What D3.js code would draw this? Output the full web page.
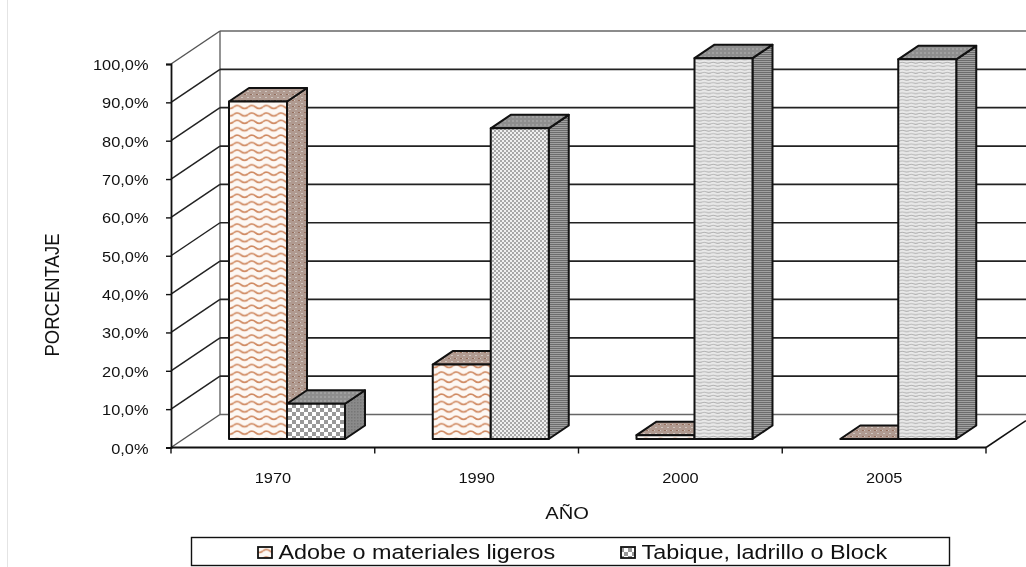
<!DOCTYPE html>
<html><head><meta charset="utf-8">
<script src="https://cdn.jsdelivr.net/npm/d3@7"></script>
<style>html,body{margin:0;padding:0;background:#fff}svg{display:block;filter:blur(0.35px)}text{font-family:"Liberation Sans",Arial,sans-serif;fill:#111}</style>
</head><body><svg id="c" width="1026" height="567"></svg>
<script>
const categories=["1970","1990","2000","2005"];
const adobe=[88.0,19.4,1.0,0];
const tabique=[9.2,81.0,99.3,99.0];
const yTicks=[0,10,20,30,40,50,60,70,80,90,100];
const seriesNames=["Adobe o materiales ligeros","Tabique, ladrillo o Block"];
const tabiquePatterns=["chk","dots","wave2","wave2"];
const tabiqueSides=["sideD","sideH","sideH","sideH"];

const svg=d3.select("#c"),defs=svg.append("defs");
function pat(id,w,h,bg,draw){const p=defs.append("pattern").attr("id",id).attr("patternUnits","userSpaceOnUse").attr("width",w).attr("height",h);
 p.append("rect").attr("width",w).attr("height",h).attr("fill",bg);draw(p);}
pat("adobeF",14.6,7.4,"#fdf8f4",p=>{p.append("path").attr("d","M0 3.5Q3.65 0.5 7.3 3.5T14.6 3.5").attr("fill","none").attr("stroke","#d08a62").attr("stroke-width",1.7);});
pat("mott",6,6,"#b09a90",p=>{p.append("rect").attr("x",1).attr("y",1).attr("width",2).attr("height",1).attr("fill","#cfc6c0");p.append("rect").attr("x",4).attr("y",4).attr("width",2).attr("height",1).attr("fill","#94705f");p.append("rect").attr("x",0).attr("y",4).attr("width",1).attr("height",1).attr("fill","#cfc6c0");});
pat("chk",8,8,"#fff",p=>{p.append("rect").attr("width",4).attr("height",4).attr("fill","#999");p.append("rect").attr("x",4).attr("y",4).attr("width",4).attr("height",4).attr("fill","#999");});
pat("dots",4,4,"#f0f0f0",p=>{p.append("rect").attr("width",2).attr("height",2).attr("fill","#a8a8a8");p.append("rect").attr("x",2).attr("y",2).attr("width",2).attr("height",2).attr("fill","#a8a8a8");});
pat("wave2",9,3.4,"#e8e8e8",p=>{p.append("path").attr("d","M0 1.5Q2.2 0.6 4.5 1.5T9 1.5").attr("fill","none").attr("stroke","#b0b0b0").attr("stroke-width",1);});
pat("topG",4,4,"#8e8e8e",p=>{p.append("rect").attr("width",2).attr("height",2).attr("fill","#a0a0a0");});
pat("sideH",3,2,"#a0a0a0",p=>{p.append("rect").attr("width",3).attr("height",1).attr("fill","#6c6c6c");});
pat("sideD",3,3,"#8a8a8a",p=>{p.append("rect").attr("width",1.5).attr("height",1.5).attr("fill","#777");});

const left=171,right=986,y0=447.5,y100=64,dx=49,dy=-33,stretch=1.17;
const x=d3.scaleBand().domain(categories).range([left,right]);
const y=d3.scaleLinear().domain([0,100]).range([y0,y100]);
const inner=d3.scaleBand().domain([0,1]).range([0,116]);
const barStart=58, baseDy=-8.5, bdx=20, bdy=-13.5;

svg.append("line").attr("x1",7.5).attr("x2",7.5).attr("y1",0).attr("y2",567).attr("stroke","#e4e4e4");

const g=svg.append("g");
g.append("line").attr("x1",left+dx).attr("x2",left+dx).attr("y1",y(0)+dy).attr("y2",y(100)+dy).attr("stroke","#888").attr("stroke-width",1.8);
g.selectAll(".grid").data(yTicks).join("line").attr("x1",left+dx).attr("x2",1026)
 .attr("y1",d=>y(d)+dy).attr("y2",d=>y(d)+dy).attr("stroke",d=>d===0||d===100?"#666":"#222").attr("stroke-width",1.7);
g.selectAll(".diag").data(yTicks).join("line").attr("x1",left).attr("x2",left+dx)
 .attr("y1",d=>y(d)).attr("y2",d=>y(d)+dy).attr("stroke",d=>d===0||d===100?"#555":"#222").attr("stroke-width",1.5);
g.append("line").attr("x1",right).attr("x2",1026).attr("y1",y0).attr("y2",y0+dy*40/49).attr("stroke","#111").attr("stroke-width",1.6);

function bar(px,w,v,front,top,side){
 const b=y(0)+baseDy,t=y(v)+baseDy,G=svg.append("g").attr("stroke","#111").attr("stroke-width",2).attr("stroke-linejoin","round");
 G.append("path").attr("d",d3.line()([[px+w,t],[px+w+bdx,t+bdy],[px+w+bdx,b+bdy],[px+w,b]])+"Z").attr("fill",`url(#${side})`);
 G.append("path").attr("d",d3.line()([[px,t],[px+bdx,t+bdy],[px+w+bdx,t+bdy],[px+w,t]])+"Z").attr("fill",`url(#${top})`);
 if(b-t>0.5) G.append("rect").attr("x",px).attr("y",t).attr("width",w).attr("height",b-t).attr("fill",`url(#${front})`);
}
categories.forEach((c,i)=>{
 const s=x(c)+barStart;
 bar(s+inner(0),inner.bandwidth(),adobe[i],"adobeF","mott","mott");
 bar(s+inner(1),inner.bandwidth(),tabique[i],tabiquePatterns[i],"topG",tabiqueSides[i]);
});

const ay=svg.append("g").attr("transform",`translate(${left},0)`).call(d3.axisLeft(y).tickValues(yTicks).tickSize(5).tickFormat(d=>d3.format(".1f")(d).replace(".",",")+"%"));
const ax=svg.append("g").attr("transform",`translate(0,${y0})`).call(d3.axisBottom(x).tickSize(0));
ax.selectAll(".bt").data(categories.concat(["end"])).join("line").attr("x1",(d,i)=>i<4?x(d):right).attr("x2",(d,i)=>i<4?x(d):right).attr("y1",0).attr("y2",6).attr("stroke","#111").attr("stroke-width",1.4);
[ay,ax].forEach(a=>{a.selectAll("path.domain").attr("stroke","#111").attr("stroke-width",1.8);a.selectAll(".tick line").attr("stroke","#111").attr("stroke-width",1.4);
 a.selectAll("text").attr("font-family",'"Liberation Sans",Arial,sans-serif').attr("font-size",14).attr("fill","#333").attr("transform",`scale(${stretch},1)`);});
ay.selectAll("text").attr("x",-22.5/stretch).attr("dy",0).attr("y",5.5);
ax.selectAll("text").attr("x",0).attr("dy",0).attr("y",36);
ax.select("path.domain").attr("d",`M${left},0H${right}`);

svg.append("text").attr("transform",`translate(59,295) rotate(-90) scale(1,1.1)`).attr("text-anchor","middle").attr("font-size",18.5).text("PORCENTAJE");
svg.append("text").attr("transform",`translate(567,519) scale(1.22,1)`).attr("text-anchor","middle").attr("font-size",16.5).text("AÑO");

svg.append("rect").attr("x",191.5).attr("y",537.5).attr("width",758).attr("height",28).attr("fill","#fff").attr("stroke","#111").attr("stroke-width",1.4);
const lx=[258,621],lp=["adobeF","chk"];
seriesNames.forEach((n,i)=>{
 svg.append("rect").attr("x",lx[i]).attr("y",547).attr("width",14).attr("height",11).attr("fill",`url(#${lp[i]})`).attr("stroke","#111").attr("stroke-width",1.8);
 svg.append("text").attr("transform",`translate(${lx[i]+20.5},559) scale(1.2,1)`).attr("font-size",19.5).text(n);
});
</script></body></html>
